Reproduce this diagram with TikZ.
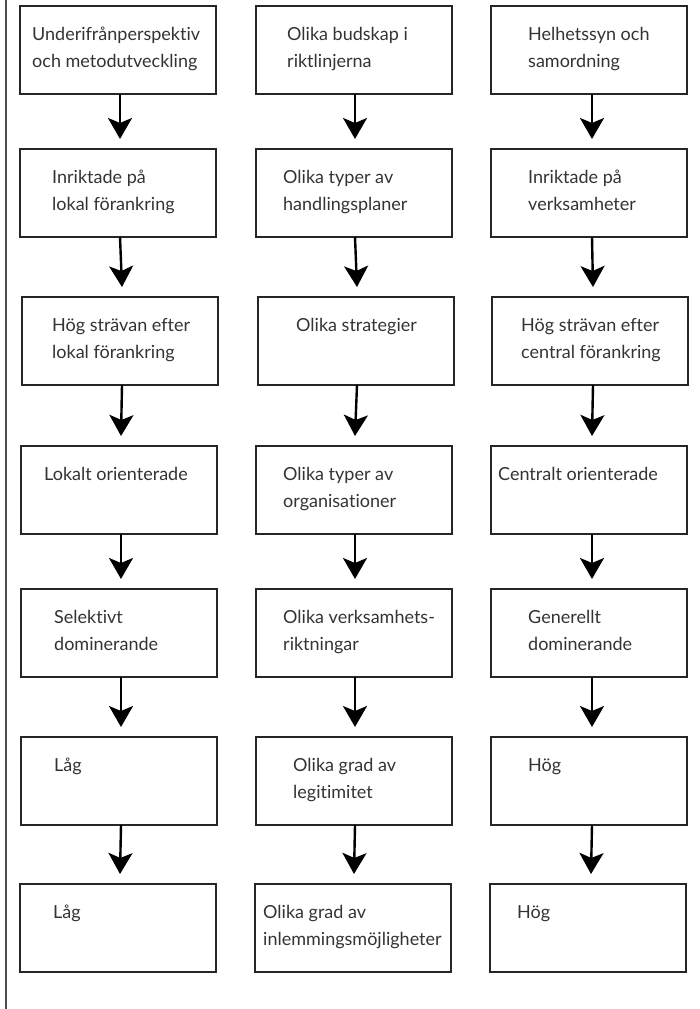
\documentclass[tikz,border=0pt]{standalone}
\usepackage{fontspec}
\setmainfont{Lato}[Ligatures=NoCommon]
\usetikzlibrary{arrows.meta}
\tikzset{
  box/.style={draw=black!85, line width=1.2pt, rectangle, anchor=north west,
    minimum width=196pt, minimum height=88pt, inner sep=0pt, outer sep=0pt},
  txt/.style={anchor=north west, inner sep=0pt, align=left, text=black!80,
    font=\fontsize{18}{27}\selectfont},
  arr/.style={line width=2.4pt, -{Stealth[length=21pt, width=24pt, inset=5pt]}},
  edge1/.style={draw=black!70, line width=1.2pt}
}
\begin{document}
\begin{tikzpicture}[x=1pt, y=-1pt]
\useasboundingbox (0,0) rectangle (699,1009);
\coordinate (ltop) at (6,0);
\coordinate (lbot) at (6,1009);
\draw[edge1] (ltop) -- (lbot);
% row 1
\node[box] (b11) at (20,6) {};
\node[box] (b12) at (256,6) {};
\node[box] (b13) at (491,6) {};
\node[txt] (t11) at (32,21) {\strut Underifrånperspektiv\\och metodutveckling};
\node[txt] (t12) at (287,21) {\strut Olika budskap i\\riktlinjerna};
\node[txt] (t13) at (528,21) {\strut Helhetssyn och\\samordning};
% row 2
\node[box] (b21) at (20,149) {};
\node[box] (b22) at (256,149) {};
\node[box] (b23) at (491,149) {};
\node[txt] (t21) at (52,164) {\strut Inriktade på\\lokal förankring};
\node[txt] (t22) at (283,164) {\strut Olika typer av\\handlingsplaner};
\node[txt] (t23) at (528,164) {\strut Inriktade på\\verksamheter};
% row 3
\node[box] (b31) at (22,297) {};
\node[box] (b32) at (258,297) {};
\node[box] (b33) at (492,297) {};
\node[txt] (t31) at (52,312) {\strut Hög strävan efter\\lokal förankring};
\node[txt] (t32) at (296,312) {\strut Olika strategier};
\node[txt] (t33) at (521,312) {\strut Hög strävan efter\\central förankring};
% row 4
\node[box] (b41) at (21,446) {};
\node[box] (b42) at (256,446) {};
\node[box] (b43) at (491,446) {};
\node[txt] (t41) at (44,461) {\strut Lokalt orienterade};
\node[txt] (t42) at (283,461) {\strut Olika typer av\\organisationer};
\node[txt] (t43) at (498,461) {\strut Centralt orienterade};
% row 5
\node[box] (b51) at (21,589) {};
\node[box] (b52) at (256,589) {};
\node[box] (b53) at (491,589) {};
\node[txt] (t51) at (54,604) {\strut Selektivt\\dominerande};
\node[txt] (t52) at (283,604) {\strut Olika verksamhets-\\riktningar};
\node[txt] (t53) at (528,604) {\strut Generellt\\dominerande};
% row 6
\node[box] (b61) at (21,737) {};
\node[box] (b62) at (256,737) {};
\node[box] (b63) at (491,737) {};
\node[txt] (t61) at (54,752) {\strut Låg};
\node[txt] (t62) at (293,752) {\strut Olika grad av\\legitimitet};
\node[txt] (t63) at (528,752) {\strut Hög};
% row 7
\node[box] (b71) at (20,884) {};
\node[box] (b72) at (255,884) {};
\node[box] (b73) at (490,884) {};
\node[txt] (t71) at (53,899) {\strut Låg};
\node[txt] (t72) at (263,899) {\strut Olika grad av\\inlemmingsmöjligheter};
\node[txt] (t73) at (517,899) {\strut Hög};
% arrows
\foreach \r/\n in {1/2,2/3,3/4,4/5,5/6,6/7}{
  \draw[arr] ([xshift=2pt]b\r1.south) -- ([xshift=2pt,yshift=10pt]b\n1.north);
  \draw[arr] ([xshift=1pt]b\r2.south) -- ([xshift=1pt,yshift=10pt]b\n2.north);
  \draw[arr] ([xshift=3pt]b\r3.south) -- ([xshift=3pt,yshift=10pt]b\n3.north);
}
\end{tikzpicture}
\end{document}
